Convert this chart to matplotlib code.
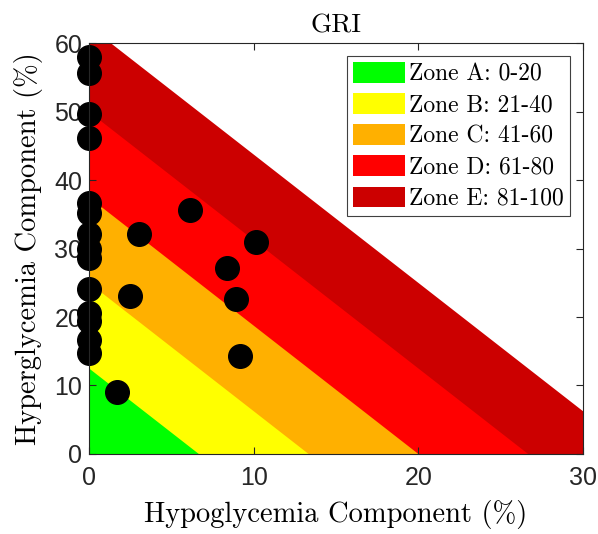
import numpy as np
import matplotlib.pyplot as plt
from matplotlib.patches import Patch

# GRI = 3.0 * hypo + 1.6 * hyper
hypo_w = 3.0
hyper_w = 1.6
zone_edges = [0, 20, 40, 60, 80, 100]
zone_labels = ['Zone A: 0-20', 'Zone B: 21-40', 'Zone C: 41-60',
               'Zone D: 61-80', 'Zone E: 81-100']
zone_colors = ['#00FF00', '#FFFF00', '#FFB000', '#FF0000', '#CC0000']

hypo = [0, 0, 0, 0, 0, 0, 0, 0, 0, 0, 0, 0, 0, 0,
        6.1, 3.05, 10.15, 8.35, 2.5, 8.9, 9.15, 1.7]
hyper = [58.0, 55.6, 49.6, 46.1, 36.7, 35.2, 32.2, 29.9, 28.6, 24.1, 20.6, 19.4, 16.6, 14.7,
         35.7, 32.2, 30.9, 27.1, 23.0, 22.7, 14.35, 9.0]

serif = 'cmr10'

fig = plt.figure(figsize=(5.98, 5.34), dpi=100)
ax = fig.add_axes([0.149, 0.150, 0.826, 0.769])

xs = np.linspace(0, 30, 601)
# paint from the outer zone inwards so neighbouring zones leave no seams
for i in range(4, -1, -1):
    hi = np.clip((zone_edges[i + 1] - hypo_w * xs) / hyper_w, 0, 60)
    ax.fill_between(xs, 0, hi, color=zone_colors[i], linewidth=0, zorder=1)
handles = [Patch(facecolor=c, edgecolor='none', label=l)
           for c, l in zip(zone_colors, zone_labels)]

ax.plot(hypo, hyper, 'o', color='black', markersize=17, clip_on=False, zorder=5)

ax.set_xlim(0, 30)
ax.set_ylim(0, 60)
ax.set_xticks([0, 10, 20, 30])
ax.set_yticks([0, 10, 20, 30, 40, 50, 60])
ax.tick_params(direction='in', length=5, labelsize=18, colors='#262626',
               top=True, right=True, width=0.8)
ax.tick_params(axis='x', pad=9)
ax.tick_params(axis='y', pad=5)
for lab in ax.get_xticklabels() + ax.get_yticklabels():
    lab.set_fontfamily('Liberation Sans')
for s in ax.spines.values():
    s.set_color('#262626')
    s.set_linewidth(0.8)
    s.set_zorder(6)

ax.set_title('GRI', fontfamily=serif, fontsize=19.5, pad=8)
ax.set_xlabel('Hypoglycemia Component (%)', fontfamily=serif, fontsize=20.5, labelpad=7)
ax.set_ylabel('Hyperglycemia Component (%)', fontfamily=serif, fontsize=20.5, labelpad=8)

leg = ax.legend(handles=handles, loc='upper right', prop={'family': serif, 'size': 17},
                frameon=True, fancybox=False, edgecolor='#404040', framealpha=1,
                handlelength=2.2, handleheight=0.95, handletextpad=0.2,
                borderaxespad=0.55, labelspacing=0.33, borderpad=0.25)
leg.get_frame().set_linewidth(0.8)
leg.set_zorder(7)

fig.savefig('out.png', dpi=100)
